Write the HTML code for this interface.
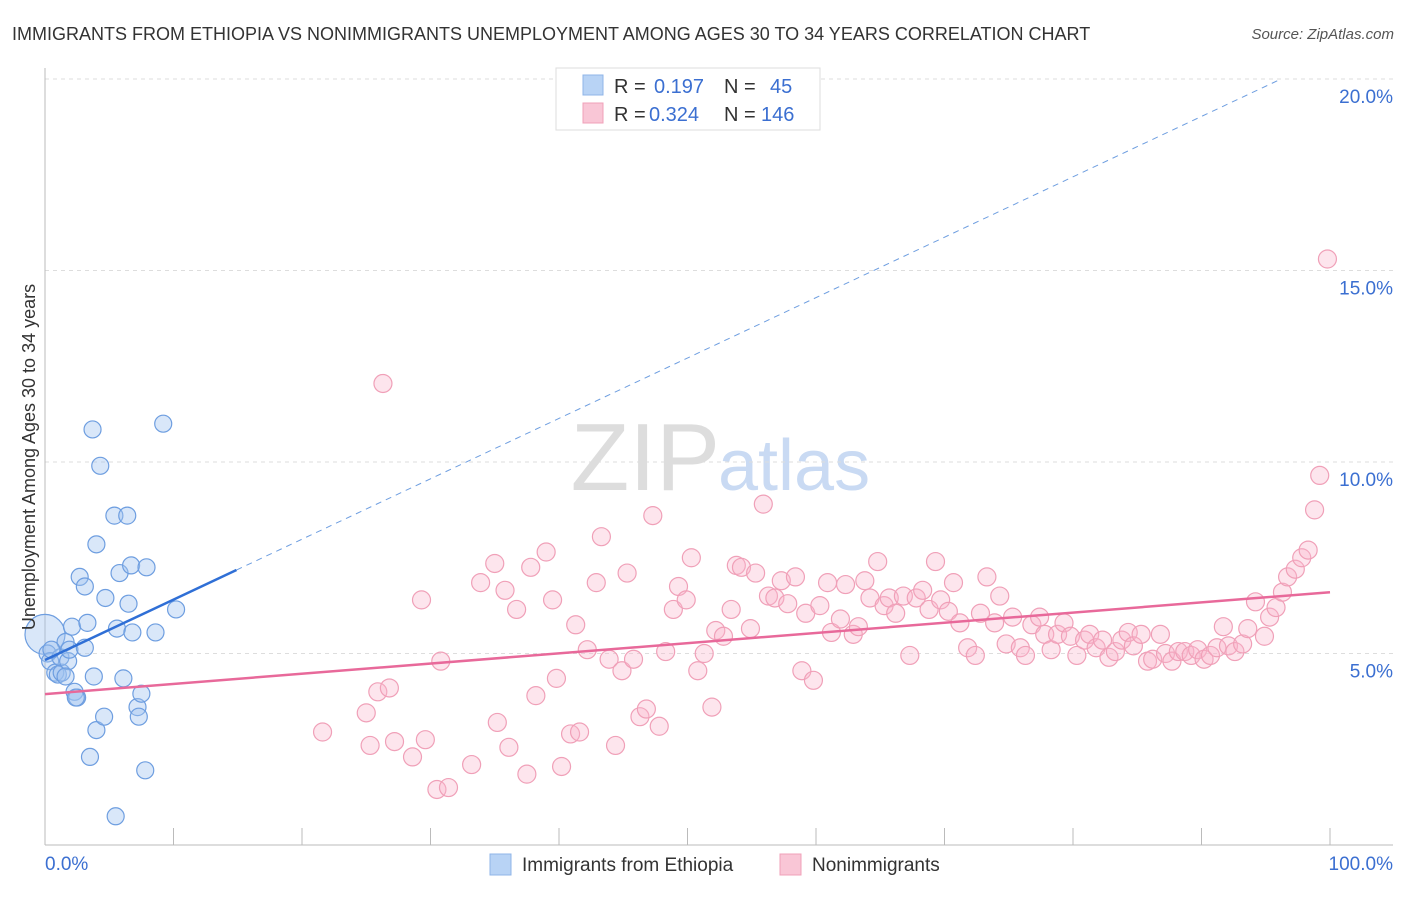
<!DOCTYPE html>
<html><head><meta charset="utf-8"><style>
body{margin:0;background:#fff;font-family:"Liberation Sans",sans-serif;}
svg text{font-family:"Liberation Sans",sans-serif;}
</style></head><body>
<svg id="chart" width="1406" height="892">
<text x="12" y="40" font-size="18" fill="#333">IMMIGRANTS FROM ETHIOPIA VS NONIMMIGRANTS UNEMPLOYMENT AMONG AGES 30 TO 34 YEARS CORRELATION CHART</text>
<text x="1394" y="39" font-size="15" fill="#555" text-anchor="end" font-style="italic">Source: ZipAtlas.com</text>
<text x="720" y="490" font-size="96" fill="#ddd" text-anchor="end" font-family="Liberation Serif">ZIP</text>
<text x="718" y="490" font-size="72" fill="#c9daf3">atlas</text>
<g id="grid"></g>
<g id="axes"></g>
<g id="marks"></g>
<text transform="translate(35,457) rotate(-90)" font-size="18" fill="#333" text-anchor="middle">Unemployment Among Ages 30 to 34 years</text>
<g>
<rect x="556" y="68" width="264" height="62" fill="#fff" stroke="#ddd"/>
<rect x="583" y="75" width="20" height="20" fill="#b8d3f5" stroke="#8fb5e8"/>
<rect x="583" y="103" width="20" height="20" fill="#f9c6d6" stroke="#f0a0b8"/>
<text x="614" y="93" font-size="20" fill="#333">R = </text><text x="654" y="93" font-size="20" fill="#3b6fd1">0.197</text>
<text x="724" y="93" font-size="20" fill="#333">N = </text><text x="770" y="93" font-size="20" fill="#3b6fd1">45</text>
<text x="614" y="121" font-size="20" fill="#333">R = </text><text x="649" y="121" font-size="20" fill="#3b6fd1">0.324</text>
<text x="724" y="121" font-size="20" fill="#333">N = </text><text x="761" y="121" font-size="20" fill="#3b6fd1">146</text>
</g>
<g>
<rect x="490" y="854" width="21" height="21" fill="#b8d3f5" stroke="#8fb5e8"/>
<text x="522" y="871" font-size="19" fill="#333">Immigrants from Ethiopia</text>
<rect x="780" y="854" width="21" height="21" fill="#f9c6d6" stroke="#f0a0b8"/>
<text x="812" y="871" font-size="19" fill="#333">Nonimmigrants</text>
</g>
</svg>
<script>
const xTicks=[0,10,20,30,40,50,60,70,80,90,100];
const yTicks=[5,10,15,20];
const yTickLabels=["5.0%","10.0%","15.0%","20.0%"];
const blueX=[0,0.2,0.4,0.8,1.0,1.3,1.2,1.6,1.8,1.9,2.1,2.3,2.5,2.7,3.1,3.1,3.3,3.5,3.7,3.8,4.0,4.0,4.3,4.6,4.7,5.4,5.5,5.6,5.8,6.1,6.4,6.5,6.7,6.8,7.2,7.3,7.5,7.8,7.9,8.6,9.2,10.2,2.4,0.5,1.6];
const blueY=[5.5,5.0,4.8,4.5,4.45,4.5,4.9,5.3,4.8,5.1,5.7,4.0,3.85,7.0,6.75,5.15,5.8,2.3,10.85,4.4,3.0,7.85,9.9,3.35,6.45,8.6,0.75,5.65,7.1,4.35,8.6,6.3,7.3,5.55,3.6,3.35,3.95,1.95,7.25,5.55,11.0,6.15,3.85,5.1,4.4];
const pinkX=[21.6,25.0,25.3,25.9,26.3,26.8,27.2,28.6,29.3,29.6,30.5,30.8,31.4,33.2,33.9,35.0,35.2,35.8,36.1,36.7,37.5,37.8,38.2,39.0,39.5,39.8,40.2,40.9,41.3,41.6,42.2,42.9,43.3,43.9,44.4,44.9,45.3,45.8,46.3,46.8,47.3,47.8,48.3,48.9,49.3,49.9,50.3,50.8,51.3,51.9,52.2,52.8,53.4,53.8,54.2,54.9,55.3,55.9,56.3,56.8,57.3,57.8,58.4,58.9,59.2,59.8,60.3,60.9,61.2,61.9,62.3,62.9,63.3,63.8,64.2,64.8,65.3,65.7,66.2,66.8,67.3,67.8,68.3,68.8,69.3,69.7,70.3,70.7,71.2,71.8,72.4,72.8,73.3,73.9,74.3,74.8,75.3,75.9,76.3,76.8,77.4,77.8,78.3,78.8,79.3,79.8,80.3,80.9,81.3,81.8,82.3,82.8,83.3,83.8,84.3,84.7,85.3,85.8,86.2,86.8,87.2,87.7,88.2,88.7,89.2,89.7,90.2,90.7,91.2,91.7,92.1,92.6,93.2,93.6,94.2,94.9,95.3,95.8,96.3,96.7,97.3,97.8,98.3,98.8,99.2,99.8];
const pinkY=[2.95,3.45,2.6,4.0,12.05,4.1,2.7,2.3,6.4,2.75,1.45,4.8,1.5,2.1,6.85,7.35,3.2,6.65,2.55,6.15,1.85,7.25,3.9,7.65,6.4,4.35,2.05,2.9,5.75,2.95,5.1,6.85,8.05,4.85,2.6,4.55,7.1,4.85,3.35,3.55,8.6,3.1,5.05,6.15,6.75,6.4,7.5,4.55,5.0,3.6,5.6,5.45,6.15,7.3,7.25,5.65,7.1,8.9,6.5,6.45,6.9,6.3,7.0,4.55,6.05,4.3,6.25,6.85,5.55,5.9,6.8,5.5,5.7,6.9,6.45,7.4,6.25,6.45,6.05,6.5,4.95,6.45,6.65,6.15,7.4,6.4,6.1,6.85,5.8,5.15,4.95,6.05,7.0,5.8,6.5,5.25,5.95,5.15,4.95,5.75,5.95,5.5,5.1,5.5,5.8,5.45,4.95,5.35,5.5,5.15,5.35,4.9,5.05,5.35,5.55,5.2,5.5,4.8,4.85,5.5,5.0,4.8,5.05,5.05,4.95,5.1,4.85,4.95,5.15,5.7,5.2,5.05,5.25,5.65,6.35,5.45,5.95,6.2,6.6,7.0,7.2,7.5,7.7,8.75,9.65,15.3];
const blueTrend=[4.83,20.6];
const pinkTrend=[3.94,6.6];
const blueSolidEnd=14.9;

const NS="http://www.w3.org/2000/svg";
const X=v=>45+v*12.85;
const Y=v=>845-v*38.3;
function mk(tag,attrs,parent){const e=document.createElementNS(NS,tag);for(const k in attrs)e.setAttribute(k,attrs[k]);parent.appendChild(e);return e;}
const grid=document.getElementById('grid'),axes=document.getElementById('axes'),marks=document.getElementById('marks');
yTicks.forEach((t,i)=>{
 const l=mk('line',{x1:45,x2:1393,y1:Y(t),y2:Y(t),stroke:'#ddd','stroke-dasharray':'4,4'},grid);
 
 
 const tx=mk('text',{x:1393,y:Y(t)+24,'font-size':19,fill:'#3b6fd1','text-anchor':'end'},axes);
 tx.textContent=yTickLabels[i];
 
 
});
const ax=mk('line',{x1:45,x2:1393,y1:845,y2:845,stroke:'#bbb'},axes);


const ay=mk('line',{x1:45,x2:45,y1:68,y2:845,stroke:'#bbb'},axes);


xTicks.forEach(t=>{
 const l=mk('line',{x1:X(t),x2:X(t),y1:828,y2:845,stroke:'#bbb'},axes);
 
 
});
const xl0=mk('text',{x:45,y:870,'font-size':19,fill:'#3b6fd1'},axes);xl0.textContent='0.0%';


const xl1=mk('text',{x:1393,y:870,'font-size':19,fill:'#3b6fd1','text-anchor':'end'},axes);xl1.textContent='100.0%';



pinkX.forEach((x,i)=>{
 const c=mk('circle',{cx:X(x),cy:Y(pinkY[i]),r:9,fill:'rgba(249,180,203,0.35)',stroke:'#f0a0b8','stroke-width':1.2},marks);
 
 
});
blueX.forEach((x,i)=>{
 const c=mk('circle',{cx:X(x),cy:Y(blueY[i]),r:i===0?20:8.5,fill:'rgba(160,195,240,0.4)',stroke:'#6e9ee0','stroke-width':1.2},marks);
 
 
});
const bt=v=>blueTrend[0]+(blueTrend[1]-blueTrend[0])*v/100;
const bd=mk('line',{x1:X(blueSolidEnd),y1:Y(bt(blueSolidEnd)),x2:X(96),y2:Y(bt(96)),stroke:'#6e9ee0','stroke-width':1,'stroke-dasharray':'6,5'},marks);


const bs=mk('line',{x1:X(0),y1:Y(bt(0)),x2:X(blueSolidEnd),y2:Y(bt(blueSolidEnd)),stroke:'#2f6fd6','stroke-width':2.5},marks);


const pt=mk('line',{x1:X(0),y1:Y(pinkTrend[0]),x2:X(100),y2:Y(pinkTrend[1]),stroke:'#e8699a','stroke-width':2.5},marks);


</script>
</body></html>
